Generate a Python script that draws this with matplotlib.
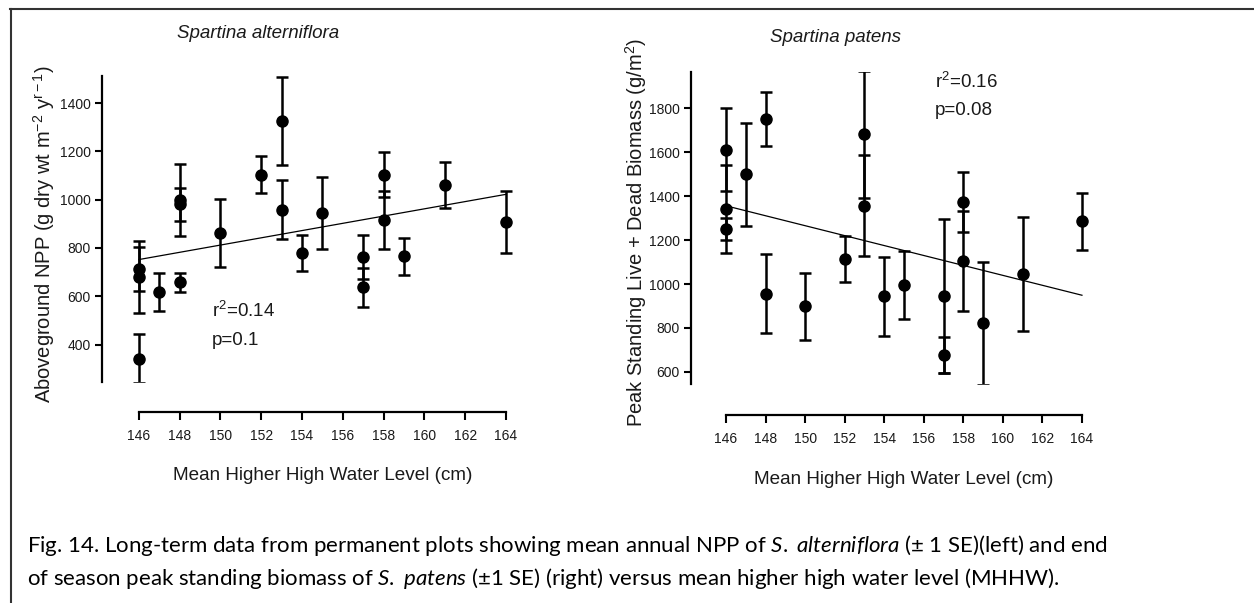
import numpy as np
import matplotlib
matplotlib.use('Agg')
import matplotlib.pyplot as plt
from matplotlib.lines import Line2D

plt.rcParams['font.family'] = ['Liberation Sans', 'DejaVu Sans']
plt.rcParams['mathtext.fontset'] = 'custom'
plt.rcParams['mathtext.it'] = 'Lato:italic'
plt.rcParams['mathtext.rm'] = 'Lato'

# Spartina alterniflora - aboveground NPP, mean +- 1 SE
alt_x = [146, 146, 146, 147, 148, 148, 148, 150, 152, 153, 153, 154, 155, 157, 157, 158, 158, 159, 161, 164]
alt_y = [711, 678, 342, 617, 998, 981, 658, 861, 1104, 1325, 958, 778, 945, 761, 637, 1104, 915, 765, 1060, 906]
alt_se = [91, 149, 100, 80, 148, 68, 40, 141, 75, 182, 122, 75, 148, 91, 80, 93, 120, 75, 96, 128]
alt_fit_x = [146, 164]
alt_fit_y = [752, 1022]

# Spartina patens - peak standing biomass, mean +- 1 SE
pat_x = [146, 146, 146, 147, 148, 148, 150, 152, 153, 153, 154, 155, 157, 157, 158, 158, 159, 161, 164]
pat_y = [1612, 1342, 1251, 1500, 1750, 955, 898, 1115, 1681, 1356, 945, 996, 944, 677, 1374, 1104, 821, 1045, 1285]
pat_se = [188, 202, 50, 234, 124, 180, 152, 105, 288, 229, 180, 153, 350, 80, 138, 229, 279, 261, 128]
pat_fit_x = [146, 164]
pat_fit_y = [1356, 949]

x_ticks = list(range(146, 165, 2))
alt_yticks = [400, 600, 800, 1000, 1200, 1400]
pat_yticks = [600, 800, 1000, 1200, 1400, 1600, 1800]

W, H = 1254, 603
fig = plt.figure(figsize=(W / 100, H / 100), dpi=100)
fig.patch.set_facecolor('white')


def box(l, t, r, b):
    return [l / W, 1 - b / H, (r - l) / W, (b - t) / H]


def fxy(x, y):
    return x / W, 1 - y / H


tc = '#1a1a1a'


def style(ax, xlim, ylim, yticks, drop):
    ax.set_xlim(*xlim)
    ax.set_ylim(*ylim)
    for s in ['top', 'right']:
        ax.spines[s].set_visible(False)
    for s in ['left', 'bottom']:
        ax.spines[s].set_linewidth(1.6)
    ax.spines['bottom'].set_position(('outward', drop))
    ax.spines['bottom'].set_bounds(146, 164)
    ax.set_xticks(x_ticks)
    ax.set_yticks(yticks)
    ax.tick_params(axis='x', direction='out', length=6, width=1.5, pad=6,
                   labelsize=10, labelcolor=tc)
    ax.tick_params(axis='y', direction='out', length=5, width=1.5, pad=3,
                   labelsize=10, labelcolor=tc)
    ax.patch.set_alpha(0)


ax1 = fig.add_axes(box(102, 76, 520, 382))
ax1.errorbar(alt_x, alt_y, yerr=alt_se, fmt='o', color='black', ms=8,
             capsize=4.5, elinewidth=1.8, capthick=1.8)
ax1.plot(alt_fit_x, alt_fit_y, color='black', lw=0.9)
style(ax1, (144.19, 164.69), (245, 1512), alt_yticks, 21.6)

ax2 = fig.add_axes(box(691, 72, 1095, 384))
ax2.errorbar(pat_x, pat_y, yerr=pat_se, fmt='o', color='black', ms=8,
             capsize=4.5, elinewidth=1.8, capthick=1.8)
ax2.plot(pat_fit_x, pat_fit_y, color='black', lw=0.9)
style(ax2, (144.23, 164.66), (545, 1965), pat_yticks, 22.3)

# titles and labels
fig.text(*fxy(258, 33), 'Spartina alterniflora', fontstyle='italic', fontsize=13.5,
         ha='center', va='center', color=tc)
fig.text(*fxy(836, 37), 'Spartina patens', fontstyle='italic', fontsize=13.5,
         ha='center', va='center', color=tc)
fig.text(*fxy(44, 234), 'Aboveground NPP (g dry wt m$\\mathregular{^{-2}}$ y$\\mathregular{^{r-1}}$)',
         rotation=90, fontsize=14.5, ha='center', va='center', color=tc)
fig.text(*fxy(636, 232), 'Peak Standing Live + Dead Biomass (g/m$\\mathregular{^2}$)',
         rotation=90, fontsize=14.5, ha='center', va='center', color=tc)
fig.text(*fxy(323, 475), 'Mean Higher High Water Level (cm)', fontsize=13.6,
         ha='center', va='center', color=tc)
fig.text(*fxy(904, 479), 'Mean Higher High Water Level (cm)', fontsize=13.6,
         ha='center', va='center', color=tc)

# regression stats
fig.text(*fxy(212, 317), 'r$\\mathregular{^2}$=0.14', fontsize=13.5, ha='left', va='baseline', color=tc)
fig.text(*fxy(212, 345), 'p=0.1', fontsize=13.5, ha='left', va='baseline', color=tc)
fig.text(*fxy(935, 88), 'r$\\mathregular{^2}$=0.16', fontsize=13.5, ha='left', va='baseline', color=tc)
fig.text(*fxy(935, 115), 'p=0.08', fontsize=13.5, ha='left', va='baseline', color=tc)

# caption
cap1 = ('Fig. 14. Long-term data from permanent plots showing mean annual NPP of '
        '$\\mathit{S.}$ $\\mathit{alterniflora}$ (\u00b1 1 SE)(left) and end')
cap2 = ('of season peak standing biomass of $\\mathit{S.}$ $\\mathit{patens}$ (\u00b11 SE) (right) '
        'versus mean higher high water level (MHHW).')
fig.text(*fxy(27, 552), cap1, family='Lato', fontsize=16, ha='left', va='baseline', color='black')
fig.text(*fxy(27, 585), cap2, family='Lato', fontsize=16, ha='left', va='baseline', color='black')

# frame of the figure box
fig.add_artist(Line2D([10 / W, 1], [1 - 8.5 / H, 1 - 8.5 / H], color='#333333', lw=1.5,
                      transform=fig.transFigure))
fig.add_artist(Line2D([11 / W, 11 / W], [0, 1 - 8.5 / H], color='#333333', lw=1.5,
                      transform=fig.transFigure))

fig.savefig('out.png', dpi=100)
